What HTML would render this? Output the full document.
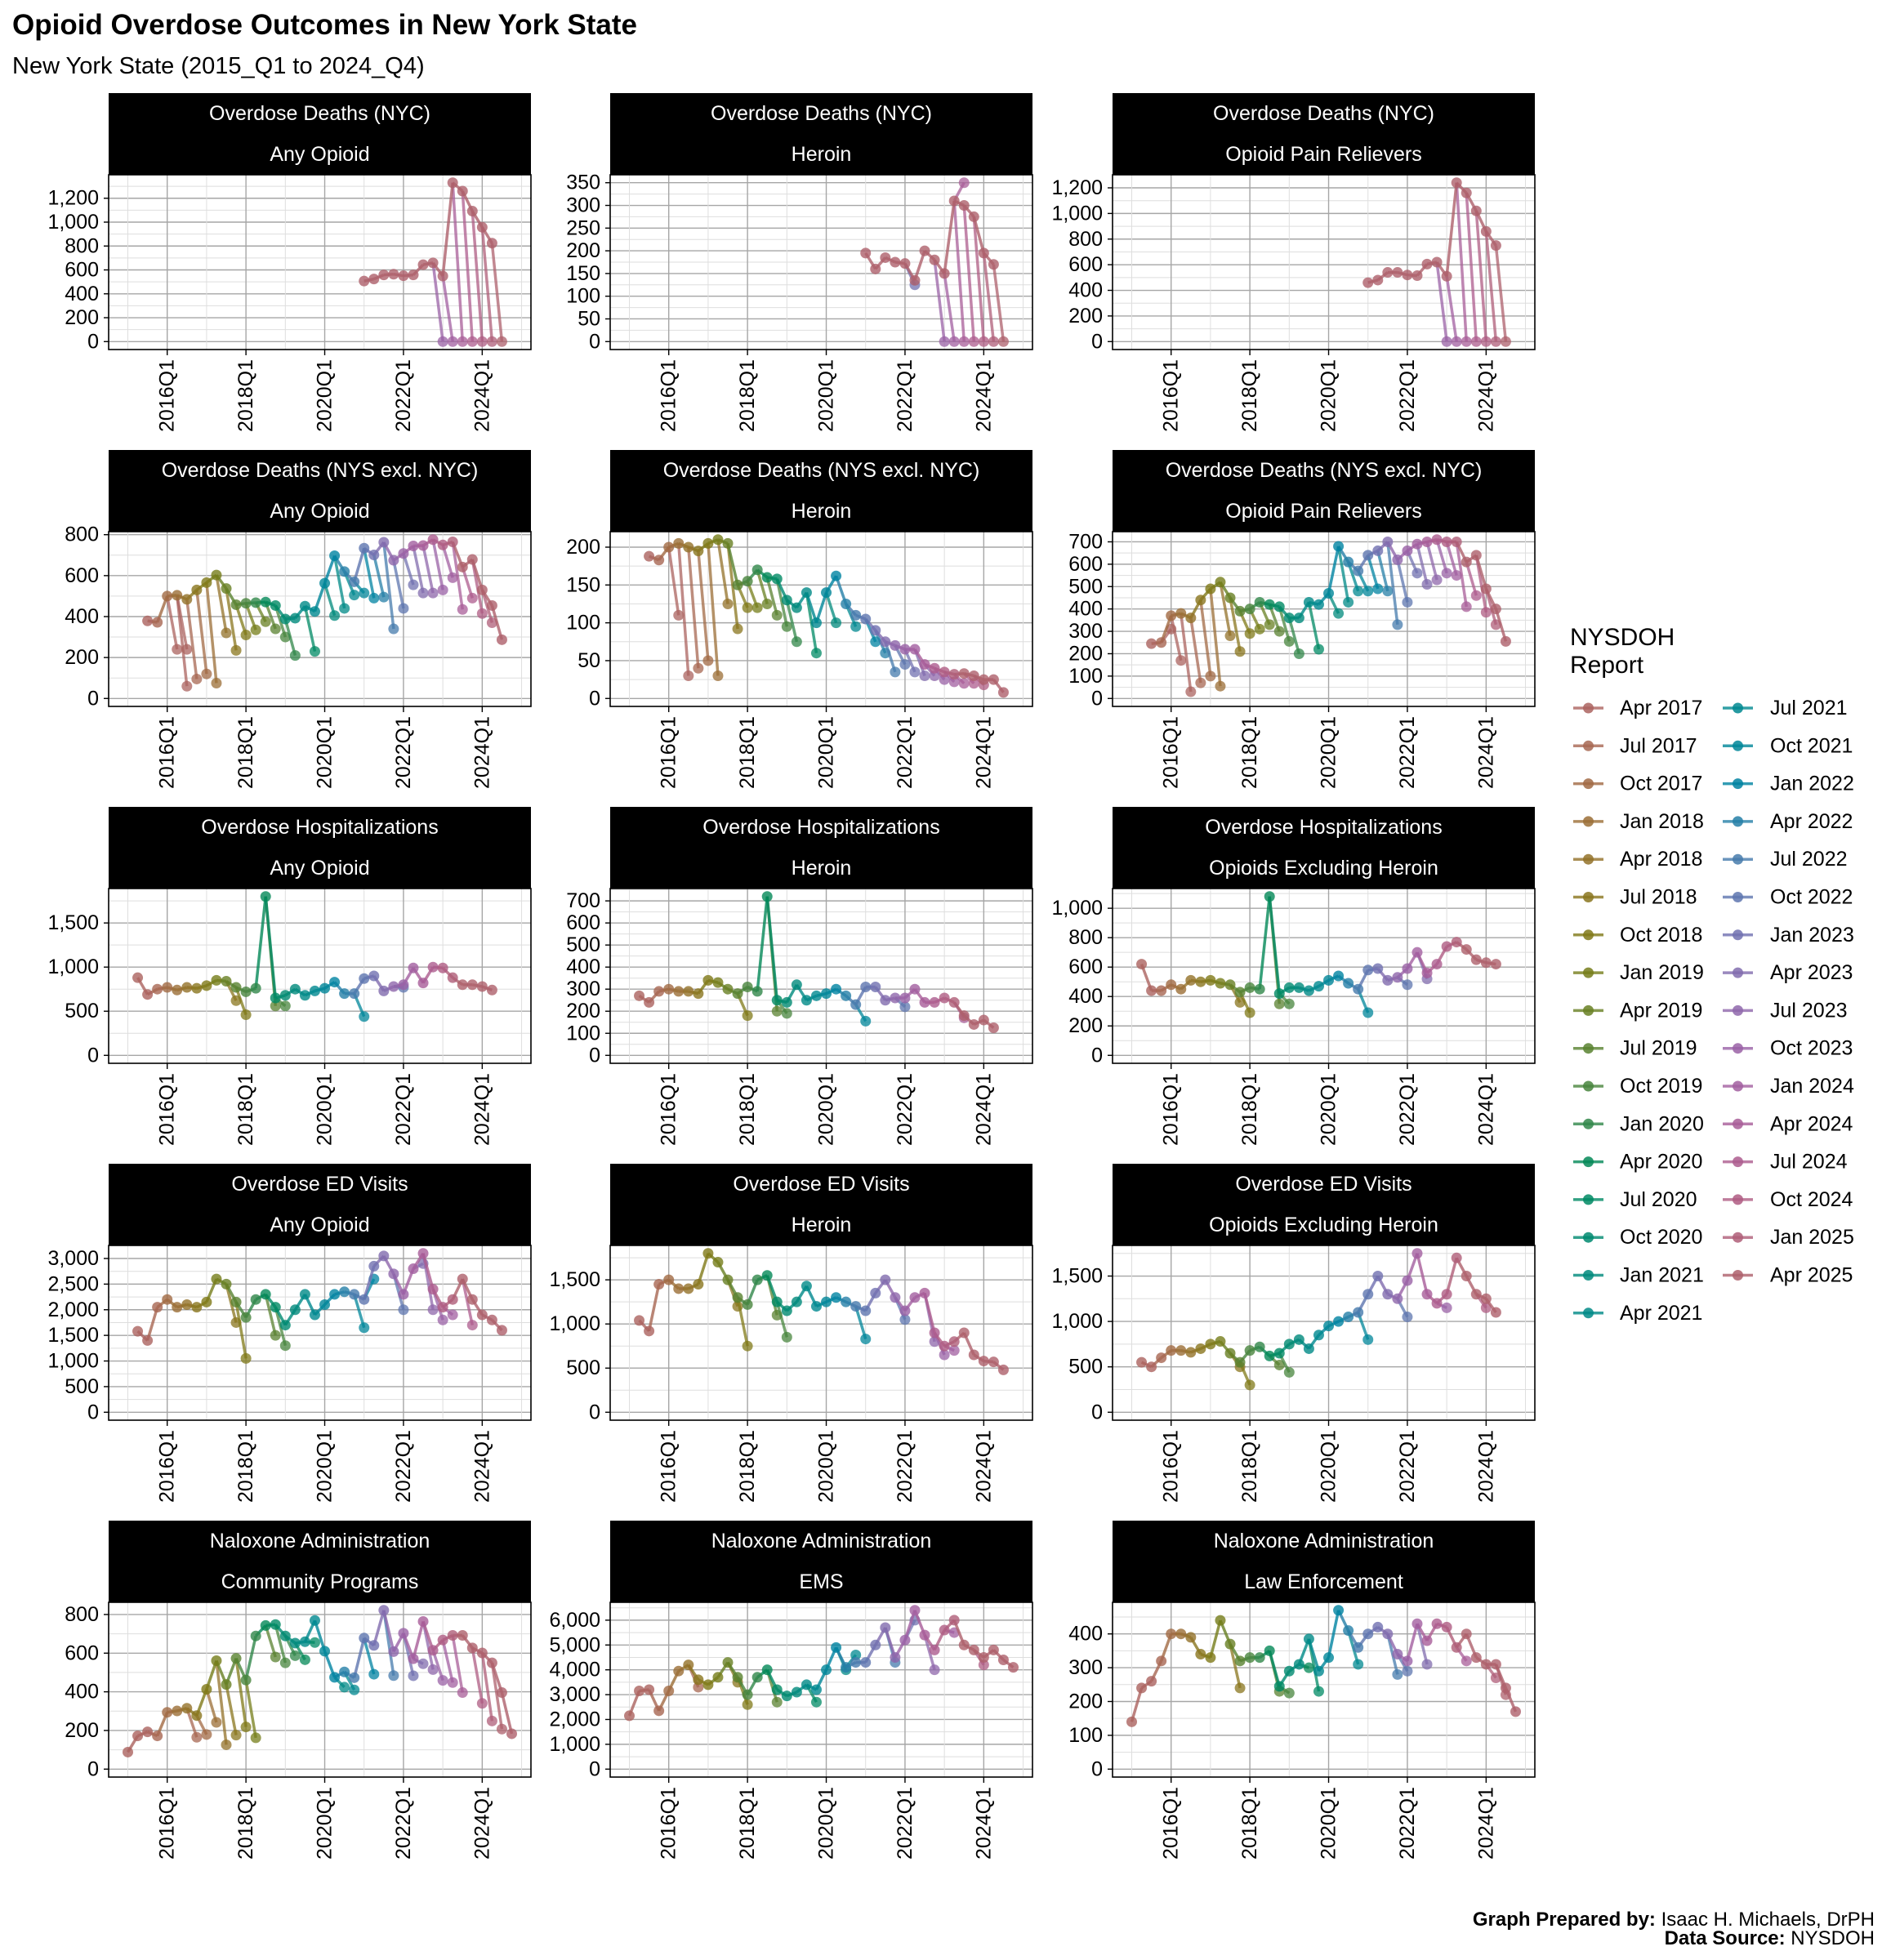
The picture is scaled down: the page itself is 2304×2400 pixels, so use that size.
<!DOCTYPE html>
<html><head><meta charset="utf-8"><title>Opioid Overdose Outcomes in New York State</title>
<style>
html,body{margin:0;padding:0;background:#fff;}
svg{display:block;font-family:"Liberation Sans",Arial,sans-serif;}
</style></head>
<body>
<svg id="chart" xmlns="http://www.w3.org/2000/svg" width="2304" height="2400" viewBox="0 0 2304 2400">
<rect x="0" y="0" width="2304" height="2400" fill="#fff"/>
<text x="15" y="42" font-size="35" font-weight="bold" fill="#000">Opioid Overdose Outcomes in New York State</text>
<text x="15" y="90" font-size="29" fill="#000">New York State (2015_Q1 to 2024_Q4)</text>
<g id="panels"></g>
<g id="legend"></g>
<text x="2295" y="2358" font-size="24" text-anchor="end"><tspan font-weight="bold">Graph Prepared by:</tspan> Isaac H. Michaels, DrPH</text>
<text x="2295" y="2381" font-size="24" text-anchor="end"><tspan font-weight="bold">Data Source:</tspan> NYSDOH</text>
</svg>
<script>
// ---------- data (quarter index 0 = 2015Q1) ----------
const reportLabels = ["Apr 2017","Jul 2017","Oct 2017","Jan 2018","Apr 2018","Jul 2018","Oct 2018","Jan 2019","Apr 2019","Jul 2019","Oct 2019","Jan 2020","Apr 2020","Jul 2020","Oct 2020","Jan 2021","Apr 2021","Jul 2021","Oct 2021","Jan 2022","Apr 2022","Jul 2022","Oct 2022","Jan 2023","Apr 2023","Jul 2023","Oct 2023","Jan 2024","Apr 2024","Jul 2024","Oct 2024","Jan 2025","Apr 2025"];
const xTickIdx = [4,12,20,28,36];
const xTickLabels = ["2016Q1","2018Q1","2020Q1","2022Q1","2024Q1"];

const nycAnyStart = 24;
const nycAnyVals = [507,524,558,564,551,558,644,659,549,1330,1260,1092,957,824];
const nycAnyDropQ = [32,33,34,35,36,37,38];
const nycAnyDropV = [0,0,0,0,0,0,0];

const nycHerStart = 24;
const nycHerVals = [195,160,185,175,172,135,200,180,150,310,300,275,195,170];
const nycHerDropQ = [29,34,32,33,34,35,36,37,38];
const nycHerDropV = [125,350,0,0,0,0,0,0,0];

const nycOprStart = 24;
const nycOprVals = [460,480,540,540,520,515,605,620,510,1240,1160,1020,860,750];
const nycOprDropQ = [32,33,34,35,36,37,38];
const nycOprDropV = [0,0,0,0,0,0,0];

const nysAnyStart = 2;
const nysAnyVals = [379,372,500,504,484,530,566,603,537,458,465,468,471,454,388,392,451,425,563,697,620,570,734,701,763,675,708,745,747,776,750,765,642,679,530,454,287];
const nysAnyDropQ = [5,6,6,7,8,9,10,11,12,13,14,15,16,17,19,21,22,23,24,25,26,27,28,29,30,31,32,33,34,35,36,37];
const nysAnyDropV = [240,60,240,95,120,75,320,235,310,335,375,340,300,210,230,405,440,505,515,490,495,340,440,555,515,515,530,590,435,490,415,370];

const nysHerStart = 2;
const nysHerVals = [188,183,200,205,200,195,205,210,205,150,155,170,160,158,130,120,140,100,140,162,125,110,105,90,75,70,65,65,45,40,35,32,33,30,25,25,8];
const nysHerDropQ = [5,6,7,8,9,10,11,12,13,14,15,16,17,19,21,23,25,26,27,28,29,30,31,32,33,34,35,36];
const nysHerDropV = [110,30,40,50,30,125,92,120,120,125,110,95,75,60,100,95,75,60,35,45,35,30,30,25,22,20,20,18];

const nysOprStart = 2;
const nysOprVals = [245,250,370,380,360,440,490,520,450,390,400,430,420,410,360,360,430,420,470,680,610,570,640,660,700,620,660,690,700,710,700,700,610,640,490,400,255];
const nysOprDropQ = [4,5,6,7,8,9,10,11,12,13,14,15,16,17,19,21,22,23,24,25,26,27,28,29,30,31,32,33,34,35,36,37];
const nysOprDropV = [310,170,30,70,100,55,280,210,290,310,330,300,255,200,220,380,430,480,480,490,480,330,430,560,510,530,560,550,410,460,385,330];

const hospAnyStart = 1;
const hospAnyVals = [880,690,750,770,740,770,760,790,850,840,770,720,760,1800,650,680,750,680,730,760,830,700,700,870,900,730,780,800,990,820,1000,990,880,800,800,780,740];
const hospAnyDropQ = [11,12,15,16,24,28];
const hospAnyDropV = [620,460,560,560,440,770];

const hospHerStart = 1;
const hospHerVals = [270,240,290,300,290,290,280,340,330,300,280,310,290,720,250,240,320,250,270,280,300,270,230,310,310,250,260,260,300,240,240,260,240,180,140,160,125];
const hospHerDropQ = [12,15,16,24,28,34];
const hospHerDropV = [180,200,190,155,220,170];

const hospOehStart = 1;
const hospOehVals = [620,440,440,480,450,510,500,510,490,480,430,460,450,1080,420,460,460,440,470,510,540,490,450,580,590,510,530,590,700,560,620,740,770,720,650,630,620];
const hospOehDropQ = [11,12,15,16,24,28,30];
const hospOehDropV = [360,290,350,350,290,480,520];

const edAnyStart = 1;
const edAnyVals = [1580,1400,2050,2200,2050,2100,2050,2150,2600,2500,2150,1850,2200,2300,2050,1700,2000,2300,1900,2100,2300,2350,2300,2200,2850,3050,2700,2300,2800,3100,2400,2050,2200,2600,2200,1900,1800,1600];
const edAnyDropQ = [11,12,15,16,24,25,28,30,31,32,33,35];
const edAnyDropV = [1750,1050,1500,1300,1650,2600,2000,2900,2000,1800,1900,1700];

const edHerStart = 1;
const edHerVals = [1040,920,1450,1500,1400,1400,1450,1800,1700,1500,1300,1220,1500,1550,1250,1150,1250,1430,1200,1250,1300,1250,1200,1150,1350,1500,1300,1150,1300,1350,900,750,800,900,650,580,570,480];
const edHerDropQ = [11,12,15,16,24,28,31,32,33];
const edHerDropV = [1200,750,1100,850,830,1050,800,650,700];

const edOehStart = 1;
const edOehVals = [550,500,600,680,680,660,700,750,780,650,550,680,720,620,650,750,800,700,850,950,1000,1050,1100,1300,1500,1300,1250,1450,1750,1300,1200,1300,1700,1500,1300,1250,1100];
const edOehDropQ = [11,12,15,16,24,28,32,36];
const edOehDropV = [500,300,520,440,800,1050,1150,1150];

const nalComStart = 0;
const nalComVals = [88,172,193,172,294,301,315,277,413,561,438,573,461,689,743,748,689,652,659,769,610,475,503,473,678,640,822,608,703,571,764,615,668,692,692,627,601,550,396,183];
const nalComDropQ = [7,8,9,10,11,12,13,15,16,17,18,19,22,23,25,27,29,30,31,32,33,34,36,37,38];
const nalComDropV = [165,179,242,126,176,218,162,580,550,587,566,655,424,410,491,484,483,545,515,459,448,396,340,249,207];

const nalEmsStart = 0;
const nalEmsVals = [2150,3150,3200,2350,3150,3950,4200,3600,3400,3700,4300,3700,3000,3700,4000,3200,2950,3100,3400,3200,4000,4900,4100,4300,4300,5000,5700,4500,5200,6400,5400,4800,5600,6000,5000,4800,4500,4800,4400,4100];
const nalEmsDropQ = [7,11,12,15,19,22,23,27,29,31,33,36];
const nalEmsDropV = [3300,3500,2600,2700,2700,4000,4600,4300,6000,4000,5500,4200];

const nalLawStart = 0;
const nalLawVals = [140,240,260,320,400,400,390,340,330,440,370,320,330,330,350,245,290,310,385,290,330,470,410,360,400,420,400,340,320,430,380,430,420,360,400,330,310,310,240,170];
const nalLawDropQ = [11,15,16,18,19,23,27,28,30,34,37,38];
const nalLawDropV = [240,230,225,300,230,310,280,290,310,320,270,220];

const panelTitles = ["Overdose Deaths (NYC)","Overdose Deaths (NYC)","Overdose Deaths (NYC)","Overdose Deaths (NYS excl. NYC)","Overdose Deaths (NYS excl. NYC)","Overdose Deaths (NYS excl. NYC)","Overdose Hospitalizations","Overdose Hospitalizations","Overdose Hospitalizations","Overdose ED Visits","Overdose ED Visits","Overdose ED Visits","Naloxone Administration","Naloxone Administration","Naloxone Administration"];
const panelSubtitles = ["Any Opioid","Heroin","Opioid Pain Relievers","Any Opioid","Heroin","Opioid Pain Relievers","Any Opioid","Heroin","Opioids Excluding Heroin","Any Opioid","Heroin","Opioids Excluding Heroin","Community Programs","EMS","Law Enforcement"];
const panelYStep = [200,50,200,200,50,100,500,100,200,500,500,500,200,1000,100];

// ---------- rendering ----------
const panelData = [
 [nycAnyStart,nycAnyVals,nycAnyDropQ,nycAnyDropV,true],
 [nycHerStart,nycHerVals,nycHerDropQ,nycHerDropV,true],
 [nycOprStart,nycOprVals,nycOprDropQ,nycOprDropV,true],
 [nysAnyStart,nysAnyVals,nysAnyDropQ,nysAnyDropV,false],
 [nysHerStart,nysHerVals,nysHerDropQ,nysHerDropV,false],
 [nysOprStart,nysOprVals,nysOprDropQ,nysOprDropV,false],
 [hospAnyStart,hospAnyVals,hospAnyDropQ,hospAnyDropV,false],
 [hospHerStart,hospHerVals,hospHerDropQ,hospHerDropV,false],
 [hospOehStart,hospOehVals,hospOehDropQ,hospOehDropV,false],
 [edAnyStart,edAnyVals,edAnyDropQ,edAnyDropV,false],
 [edHerStart,edHerVals,edHerDropQ,edHerDropV,false],
 [edOehStart,edOehVals,edOehDropQ,edOehDropV,false],
 [nalComStart,nalComVals,nalComDropQ,nalComDropV,false],
 [nalEmsStart,nalEmsVals,nalEmsDropQ,nalEmsDropV,false],
 [nalLawStart,nalLawVals,nalLawDropQ,nalLawDropV,false]
];

const NS = "http://www.w3.org/2000/svg";
function mk(tag, attrs, parent){
  const e = document.createElementNS(NS, tag);
  for (const k in attrs) e.setAttribute(k, attrs[k]);
  parent.appendChild(e);
  return e;
}
function hcl(h, c, l){
  const hr = h*Math.PI/180, u = c*Math.cos(hr), v = c*Math.sin(hr);
  const Y = l > 8 ? 100*Math.pow((l+16)/116,3) : 100*l/903.3;
  const un = 0.1978398, vn = 0.4683363;
  const up = u/(13*l)+un, vp = v/(13*l)+vn;
  const X = 9*Y*up/(4*vp), Z = Y*(12-3*up-20*vp)/(4*vp);
  const x = X/100, y = Y/100, z = Z/100;
  let r = 3.2404542*x-1.5371385*y-0.4985314*z;
  let g = -0.9692660*x+1.8760108*y+0.0415560*z;
  let b = 0.0556434*x-0.2040259*y+1.0572252*z;
  const gm = t => { t = t<=0.0031308 ? 12.92*t : 1.055*Math.pow(t,1/2.4)-0.055; return Math.round(Math.max(0,Math.min(1,t))*255); };
  return "rgb("+gm(r)+","+gm(g)+","+gm(b)+")";
}
const nRep = reportLabels.length;
function repColor(r){ return hcl(15 + r*360/nRep, 52, 50); }
function clampR(r){ return Math.max(0, Math.min(nRep-1, r)); }
function fmt(v){ return (v + 0).toLocaleString("en-US"); }

const colX = [133, 747, 1362];
const PW = 517, STRIP_H = 100, PLOT_H = 214;
const X_LO = -1.95, X_HI = 40.95;
const PR = 6.5, LW = 3.5;
const panelsG = document.getElementById("panels");

panelData.forEach((pd, i) => {
  const [start, vals, dq, dv, nyc] = pd;
  const L = colX[i%3], T = 114 + 437*Math.floor(i/3);
  const PT = T + STRIP_H, PB = PT + PLOT_H, R = L + PW;
  const g = mk("g", {}, panelsG);
  
  
  const allV = vals.concat(dv);
  const vmax = Math.max(...allV), vmin = Math.min(0, ...allV);
  const rng = vmax - vmin;
  const lo = vmin - 0.05*rng, hi = vmax + 0.05*rng;
  const xS = q => L + (q - X_LO)/(X_HI - X_LO)*PW;
  const yS = v => PB - (v - lo)/(hi - lo)*PLOT_H;

  const strip = mk("rect", {x:L, y:T, width:PW, height:STRIP_H, fill:"#000"}, g);
  
  
  const t1 = mk("text", {x:L+PW/2, y:T+25, "font-size":25, fill:"#fff", "text-anchor":"middle", "dominant-baseline":"central"}, g);
  t1.textContent = panelTitles[i];
  
  
  const t2 = mk("text", {x:L+PW/2, y:T+75, "font-size":25, fill:"#fff", "text-anchor":"middle", "dominant-baseline":"central"}, g);
  t2.textContent = panelSubtitles[i];
  
  

  const step = panelYStep[i];
  for (let v = Math.ceil(lo/(step/2))*(step/2); v <= hi; v += step/2) {
    const major = Math.abs(v/step - Math.round(v/step)) < 1e-6;
    const gl = mk("line", {x1:L, x2:R, y1:yS(v), y2:yS(v), stroke: major ? "#a6a6a6" : "#dedede", "stroke-width": major ? 1.4 : 1}, g);
    
    
    if (major) {
      const tk = mk("line", {x1:L-6, x2:L, y1:yS(v), y2:yS(v), stroke:"#000", "stroke-width":1.4}, g);
      
      
      const tl = mk("text", {x:L-12, y:yS(v), "font-size":25, "text-anchor":"end", "dominant-baseline":"central", fill:"#000"}, g);
      tl.textContent = fmt(Math.round(v));
      
      
    }
  }
  for (let q = 0; q <= 40; q += 4) {
    const major = xTickIdx.indexOf(q) >= 0;
    const gl = mk("line", {x1:xS(q), x2:xS(q), y1:PT, y2:PB, stroke: major ? "#a6a6a6" : "#dedede", "stroke-width": major ? 1.4 : 1}, g);
    
    
  }
  xTickIdx.forEach((q, k) => {
    const tk = mk("line", {x1:xS(q), x2:xS(q), y1:PB, y2:PB+7, stroke:"#000", "stroke-width":1.4}, g);
    
    
    const tl = mk("text", {x:0, y:0, "font-size":25, "text-anchor":"end", "dominant-baseline":"central", fill:"#000", transform:"translate("+xS(q)+","+(PB+12)+") rotate(-90)"}, g);
    tl.textContent = xTickLabels[k];
    
    
  });

  const valAt = q => { const j = q - start; return (j >= 0 && j < vals.length) ? vals[j] : null; };

  dq.forEach((q, k) => {
    const col = repColor(clampR(q - 6));
    const prev = valAt(q - 1);
    if (prev !== null) {
      const ln = mk("line", {x1:xS(q-1), y1:yS(prev), x2:xS(q), y2:yS(dv[k]), stroke:col, "stroke-width":LW, "stroke-opacity":0.75}, g);
      
      
    }
    const pt = mk("circle", {cx:xS(q), cy:yS(dv[k]), r:PR, fill:col, "fill-opacity":0.75}, g);
    
    
  });

  for (let j = 1; j < vals.length; j++) {
    const q = start + j;
    const col = repColor(nyc ? nRep-1 : clampR(q - 2));
    const ln = mk("line", {x1:xS(q-1), y1:yS(vals[j-1]), x2:xS(q), y2:yS(vals[j]), stroke:col, "stroke-width":LW, "stroke-opacity":0.8}, g);
    
    
  }
  vals.forEach((v, j) => {
    const q = start + j;
    const col = repColor(nyc ? nRep-1 : clampR(q - 2));
    const pt = mk("circle", {cx:xS(q), cy:yS(v), r:PR, fill:col, "fill-opacity":0.8}, g);
    
    
  });

  const border = mk("rect", {x:L, y:PT, width:PW, height:PLOT_H, fill:"none", stroke:"#000", "stroke-width":1.6}, g);
  
  
});

const lg = document.getElementById("legend");
const lt1 = mk("text", {x:1922, y:790, "font-size":30, fill:"#000"}, lg);
lt1.textContent = "NYSDOH";


const lt2 = mk("text", {x:1922, y:824, "font-size":30, fill:"#000"}, lg);
lt2.textContent = "Report";


reportLabels.forEach((lab, r) => {
  const col = r < 17 ? 0 : 1, row = r < 17 ? r : r - 17;
  const kx = col === 0 ? 1926 : 2109, tx = col === 0 ? 1983 : 2167;
  const y = 867 + row*46.3;
  const eg = mk("g", {}, lg);
  
  
  const c = repColor(r);
  mk("line", {x1:kx, x2:kx+37, y1:y, y2:y, stroke:c, "stroke-width":LW, "stroke-opacity":0.8}, eg);
  mk("circle", {cx:kx+18.5, cy:y, r:PR, fill:c, "fill-opacity":0.85}, eg);
  const t = mk("text", {x:tx, y:y, "font-size":25, "dominant-baseline":"central", fill:"#000"}, eg);
  t.textContent = lab;
});
</script>
</body></html>
